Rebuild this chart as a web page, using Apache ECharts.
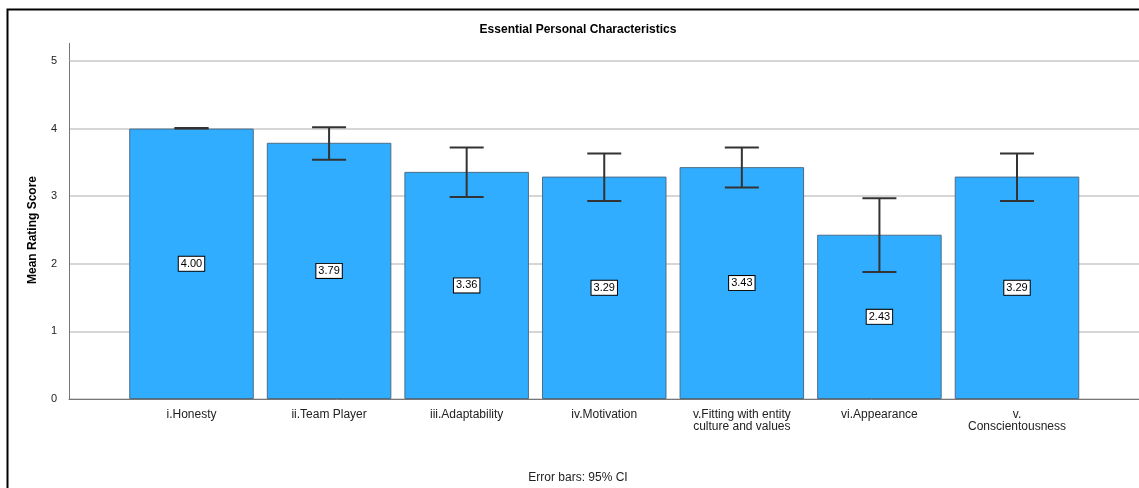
<!DOCTYPE html>
<html>
<head>
<meta charset="utf-8">
<script src="https://cdn.jsdelivr.net/npm/echarts@6/dist/echarts.min.js"></script>
<style>html,body{margin:0;padding:0;background:#fff;}#c{width:1139px;height:488px;}</style>
</head>
<body>
<div id="c"></div>
<script>
const categories = ['i.Honesty', 'ii.Team Player', 'iii.Adaptability', 'iv.Motivation', 'v.Fitting with entity\nculture and values', 'vi.Appearance', 'v.\nConscientousness'];
const means = [4.00, 3.79, 3.36, 3.29, 3.43, 2.43, 3.29];
const ciLow = [4.00, 3.54, 2.99, 2.93, 3.13, 1.88, 2.93];
const ciHigh = [4.01, 4.02, 3.72, 3.63, 3.72, 2.97, 3.63];
const yTicks = [0, 1, 2, 3, 4, 5];

const FONT = 'Liberation Sans, Arial, sans-serif';
const chart = echarts.init(document.getElementById('c'));
const errData = categories.map((c, i) => [i, ciLow[i], ciHigh[i]]);

chart.setOption({
  animation: false,
  backgroundColor: '#fff',
  graphic: [
    { type: 'rect', shape: { x: 7.5, y: 9.5, width: 1140, height: 490 }, style: { fill: 'none', stroke: '#000', lineWidth: 2 }, z: 100 },
    { type: 'line', shape: { x1: 69.5, y1: 43, x2: 69.5, y2: 61 }, style: { stroke: '#777', lineWidth: 1 } },
    { type: 'text', x: 578, y: 30, style: { text: 'Essential Personal Characteristics', font: 'bold 12px ' + FONT, fill: '#000', textAlign: 'center', textVerticalAlign: 'middle' } },
    { type: 'text', x: 578, y: 478, style: { text: 'Error bars: 95% CI', font: '12px ' + FONT, fill: '#222', textAlign: 'center', textVerticalAlign: 'middle' } }
  ],
  grid: [
    { left: 69, right: 0, top: 61, bottom: 89, containLabel: false, outerBoundsMode: 'none' },
    { left: 122.7, right: 53.2, top: 61, bottom: 89, containLabel: false, outerBoundsMode: 'none' }
  ],
  xAxis: [
    { gridIndex: 0, type: 'value', min: 0, max: 1, axisLine: { show: true, onZero: false, lineStyle: { color: '#777', width: 1 } }, axisTick: { show: false }, axisLabel: { show: false }, splitLine: { show: false } },
    { gridIndex: 1, type: 'category', data: categories, axisLine: { show: false }, axisTick: { show: false },
      axisLabel: { interval: 0, fontSize: 12, fontFamily: FONT, color: '#222', margin: 10, lineHeight: 12 } }
  ],
  yAxis: [
    { gridIndex: 0, type: 'value', min: 0, max: 5, interval: 1,
      name: 'Mean Rating Score', nameLocation: 'middle', nameGap: 30,
      nameTextStyle: { fontWeight: 'bold', fontSize: 12, fontFamily: FONT, color: '#000' },
      axisLine: { show: true, lineStyle: { color: '#777', width: 1 } },
      axisTick: { show: false },
      axisLabel: { fontSize: 11, fontFamily: FONT, color: '#222', margin: 12, formatter: v => yTicks.includes(v) ? String(v) : '' },
      splitLine: { show: true, lineStyle: { color: '#c8c8c8', width: 1.5 } } },
    { gridIndex: 1, type: 'value', min: 0, max: 5, interval: 1, show: false, splitLine: { show: false } }
  ],
  series: [
    { type: 'bar', xAxisIndex: 1, yAxisIndex: 1, data: means, barCategoryGap: '9.5%',
      itemStyle: { color: '#31adff', borderColor: '#4a6d88', borderWidth: 1 },
      label: { show: true, position: 'inside', formatter: p => p.value.toFixed(2), fontSize: 11, fontFamily: FONT, color: '#000',
        backgroundColor: '#fff', borderColor: '#000', borderWidth: 1, padding: [2, 2, 1, 2] }, z: 2 },
    { type: 'custom', xAxisIndex: 1, yAxisIndex: 1, data: errData, z: 5,
      renderItem: (params, api) => {
        const x = api.value(0);
        const lo = api.coord([x, api.value(1)]);
        const hi = api.coord([x, api.value(2)]);
        const hw = 17;
        const style = { stroke: '#333', lineWidth: 2 };
        return { type: 'group', children: [
          { type: 'line', shape: { x1: lo[0], y1: lo[1], x2: hi[0], y2: hi[1] }, style },
          { type: 'line', shape: { x1: lo[0] - hw, y1: lo[1], x2: lo[0] + hw, y2: lo[1] }, style },
          { type: 'line', shape: { x1: hi[0] - hw, y1: hi[1], x2: hi[0] + hw, y2: hi[1] }, style }
        ] };
      } }
  ]
});
</script>
</body>
</html>
